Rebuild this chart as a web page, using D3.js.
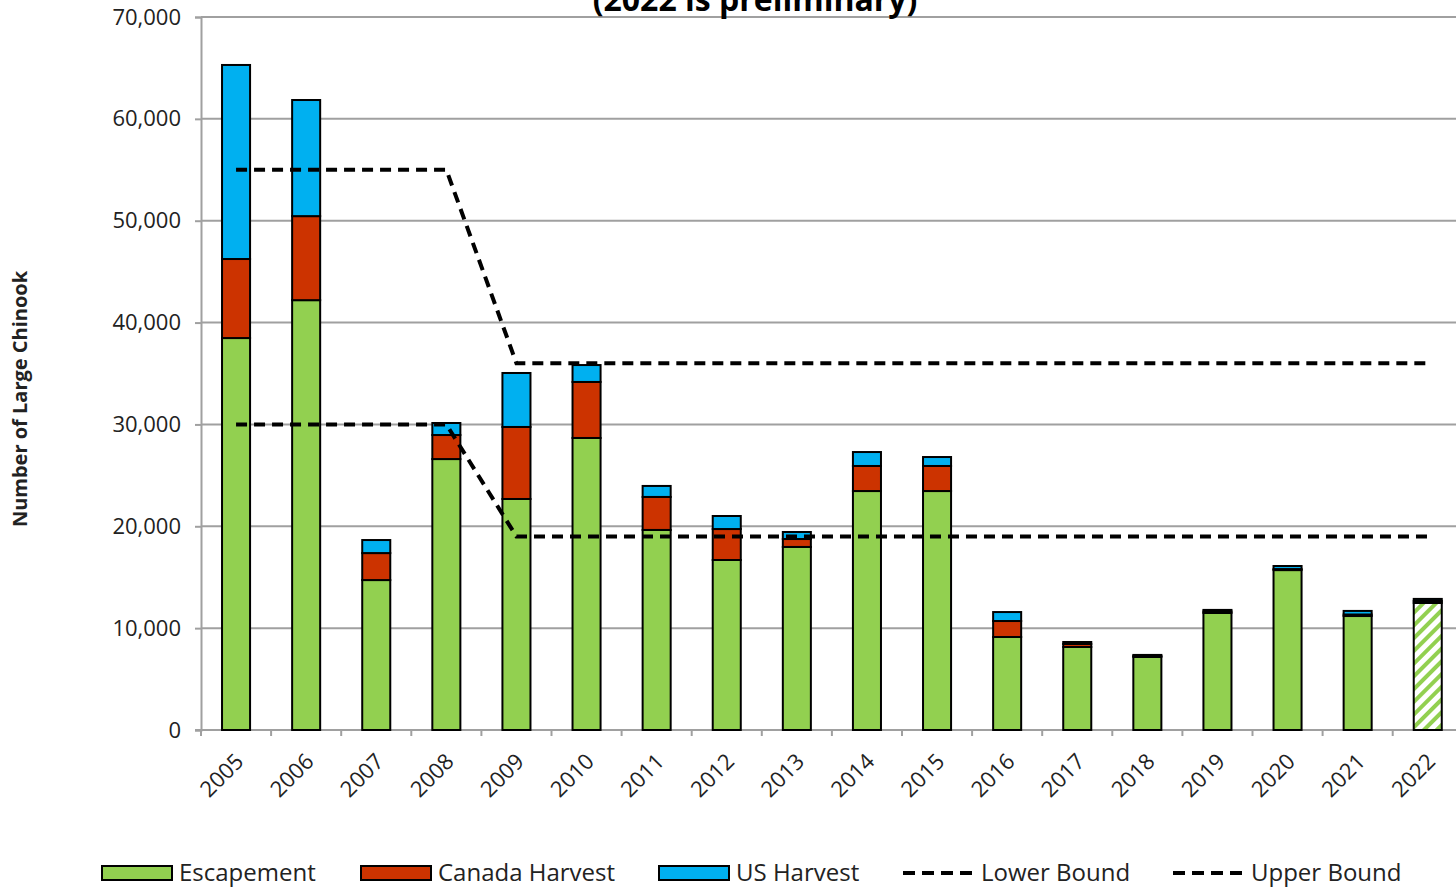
<!DOCTYPE html>
<html><head><meta charset="utf-8">
<script src="https://cdn.jsdelivr.net/npm/d3@7"></script>
<style>
html,body{margin:0;padding:0;background:#fff;}
svg{display:block;font-family:"Open Sans",sans-serif;}
</style></head>
<body>
<svg id="chart" width="1456" height="887"></svg>
<script>
const years = ["2005","2006","2007","2008","2009","2010","2011","2012","2013","2014","2015","2016","2017","2018","2019","2020","2021","2022"];
const escapement = [38480,42200,14720,26600,22680,28670,19640,16690,17970,23460,23460,9130,8150,7170,11490,15700,11190,12470];
const canadaHarvest = [7760,8250,2650,2360,7070,5500,3240,3040,780,2460,2460,1570,300,100,150,100,150,200];
const usHarvest = [19050,11400,1280,1180,5300,1660,1080,1280,690,1370,880,880,190,100,150,300,350,200];
const lowerBound = [30000,30000,30000,30000,19000,19000,19000,19000,19000,19000,19000,19000,19000,19000,19000,19000,19000,19000];
const upperBound = [55000,55000,55000,55000,36000,36000,36000,36000,36000,36000,36000,36000,36000,36000,36000,36000,36000,36000];
const yTicks = [0,10000,20000,30000,40000,50000,60000,70000];
const seriesNames = ["Escapement","Canada Harvest","US Harvest"];
const seriesColors = ["#92D050","#CC3300","#00B0F0"];
const titleText = "(2022 is preliminary)";
const yTitle = "Number of Large Chinook";

const svg = d3.select("#chart");
const x = d3.scaleBand().domain(years).range([201, 201 + 70.1*18]).paddingInner(0.6).paddingOuter(0.3);
const y = d3.scaleLinear().domain([0,70000]).range([730,17]);
const gridColor = "#a0a0a0";

// defs: hatch pattern
const defs = svg.append("defs");
const pat = defs.append("pattern").attr("id","hatch").attr("patternUnits","userSpaceOnUse")
  .attr("width",9).attr("height",9).attr("patternTransform","rotate(45)");
pat.append("rect").attr("width",9).attr("height",9).attr("fill","#fff");
pat.append("rect").attr("x",0).attr("width",4).attr("height",9).attr("fill","#92D050");

// gridlines
svg.append("g").selectAll("line").data(yTicks.filter(d=>d>0)).join("line")
  .attr("x1",201).attr("x2",1456).attr("y1",d=>y(d)).attr("y2",d=>y(d))
  .attr("stroke",gridColor).attr("stroke-width",2);

// y axis
const yAxis = svg.append("g").attr("transform","translate(201,0)")
  .call(d3.axisLeft(y).tickValues(yTicks).tickFormat(d3.format(",")).tickSize(6).tickPadding(14));
yAxis.select(".domain").attr("stroke",gridColor).attr("stroke-width",2);
yAxis.selectAll(".tick line").attr("stroke",gridColor).attr("stroke-width",2);
yAxis.selectAll("text").attr("font-size",22).attr("fill","#222").attr("font-family","Open Sans");

// x axis baseline and ticks
const step = x.step();
const bounds = years.map(d => x(d) - step*0.3).concat([x(years[years.length-1]) + x.bandwidth() + step*0.3]);
svg.append("line").attr("x1",195).attr("x2",1456).attr("y1",y(0)).attr("y2",y(0))
  .attr("stroke",gridColor).attr("stroke-width",2);
svg.append("g").selectAll("line").data(bounds).join("line")
  .attr("x1",d=>d).attr("x2",d=>d).attr("y1",y(0)).attr("y2",y(0)+6)
  .attr("stroke",gridColor).attr("stroke-width",2);
svg.append("g").selectAll("text").data(years).join("text")
  .attr("transform",d=>`translate(${x(d)+x.bandwidth()/2-2},${y(0)+22}) rotate(-45)`)
  .attr("text-anchor","end").attr("dy","0.7em")
  .attr("font-size",22).attr("fill","#222").text(d=>d);

// stacked bars
const rows = years.map((yr,i)=>({year:yr, esc:escapement[i], can:canadaHarvest[i], us:usHarvest[i]}));
const stack = d3.stack().keys(["esc","can","us"])(rows);
const barG = svg.append("g");
stack.forEach((layer,li)=>{
  barG.append("g").selectAll("rect").data(layer).join("rect")
    .attr("x",d=>x(d.data.year)).attr("width",x.bandwidth())
    .attr("y",d=>y(d[1])).attr("height",d=>y(d[0])-y(d[1]))
    .attr("fill",d=> (li===0 && d.data.year==="2022") ? "url(#hatch)" : seriesColors[li])
    .attr("stroke","#000").attr("stroke-width",2);
});

// bound lines
const line = d3.line().x((d,i)=>x(years[i])+x.bandwidth()/2).y(d=>y(d));
[lowerBound, upperBound].forEach(arr=>{
  svg.append("path").attr("d",line(arr)).attr("fill","none")
    .attr("stroke","#000").attr("stroke-width",4).attr("stroke-dasharray","11,7");
});

// title (partially cut off, as in the reference)
svg.append("text").attr("x",755).attr("y",11).attr("text-anchor","middle")
  .attr("font-size",32).attr("font-weight","bold").attr("fill","#000").text(titleText);

// y title
svg.append("text").attr("transform","translate(27,399) rotate(-90)").attr("text-anchor","middle")
  .attr("font-size",20).attr("font-weight","bold").attr("fill","#222").text(yTitle);

// legend
const leg = svg.append("g");
const legItems = [
  {name:"Escapement", type:"rect", color:seriesColors[0], x:101},
  {name:"Canada Harvest", type:"rect", color:seriesColors[1], x:360},
  {name:"US Harvest", type:"rect", color:seriesColors[2], x:658},
  {name:"Lower Bound", type:"line", x:903},
  {name:"Upper Bound", type:"line", x:1173}
];
legItems.forEach(it=>{
  if(it.type==="rect"){
    leg.append("rect").attr("x",it.x+1).attr("y",866).attr("width",70).attr("height",14)
      .attr("fill",it.color).attr("stroke","#000").attr("stroke-width",2);
  } else {
    leg.append("line").attr("x1",it.x).attr("x2",it.x+72).attr("y1",873).attr("y2",873)
      .attr("stroke","#000").attr("stroke-width",4).attr("stroke-dasharray","12,7");
  }
  leg.append("text").attr("x",it.x+78).attr("y",873).attr("dy","0.35em")
    .attr("font-size",24).attr("fill","#222").text(it.name);
});
</script>
</body></html>
